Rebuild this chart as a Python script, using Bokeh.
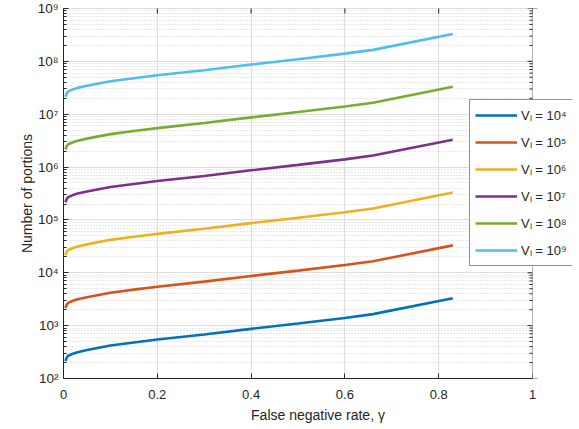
import math
from bokeh.plotting import figure
from bokeh.models import FixedTicker, Legend, LegendItem, BoxAnnotation
from bokeh.embed import file_html
from bokeh.resources import INLINE

# ---- data ----
gamma = [0.004, 0.007, 0.01, 0.02, 0.03, 0.05, 0.1, 0.15, 0.2, 0.3, 0.4, 0.5, 0.6, 0.66, 0.83]
n_v4 = [215, 250, 270, 295, 315, 345, 420, 480, 545, 680, 870, 1100, 1400, 1650, 3300]
n_v5 = [2150, 2500, 2700, 2950, 3150, 3450, 4200, 4800, 5450, 6800, 8700, 11000, 14000, 16500, 33000]
n_v6 = [21500, 25000, 27000, 29500, 31500, 34500, 42000, 48000, 54500, 68000, 87000, 110000, 140000, 165000, 330000]
n_v7 = [215000, 250000, 270000, 295000, 315000, 345000, 420000, 480000, 545000, 680000, 870000,
        1100000, 1400000, 1650000, 3300000]
n_v8 = [2150000, 2500000, 2700000, 2950000, 3150000, 3450000, 4200000, 4800000, 5450000, 6800000,
        8700000, 11000000, 14000000, 16500000, 33000000]
n_v9 = [21500000, 25000000, 27000000, 29500000, 31500000, 34500000, 42000000, 48000000, 54500000,
        68000000, 87000000, 110000000, 140000000, 165000000, 330000000]
series = [n_v4, n_v5, n_v6, n_v7, n_v8, n_v9]
labels = ["V\u2097 = 10\u2074", "V\u2097 = 10\u2075", "V\u2097 = 10\u2076",
          "V\u2097 = 10\u2077", "V\u2097 = 10\u2078", "V\u2097 = 10\u2079"]
colors = ["#0072BD", "#D95319", "#EDB120", "#7E2F8E", "#77AC30", "#4DBEEE"]

x_ticks = [0, 0.2, 0.4, 0.6, 0.8, 1]
x_tick_labels = ["0", "0.2", "0.4", "0.6", "0.8", "1"]
y_ticks = [1e2, 1e3, 1e4, 1e5, 1e6, 1e7, 1e8, 1e9]
y_tick_labels = ["10\u00b2", "10\u00b3", "10\u2074", "10\u2075", "10\u2076", "10\u2077", "10\u2078", "10\u2079"]
y_minor = [m * 10 ** e for e in range(2, 9) for m in range(2, 10)]

X_MIN, X_MAX = 0, 1
Y_MIN, Y_MAX = 1e2, 1e9
# the frame runs a little past x = 1 so the legend can stick out of the axes box
X_FRAME_END = 509 / 469

FONT = "Liberation Sans"
TXT = "#262626"

p = figure(width=579, height=429, x_range=(X_MIN, X_FRAME_END), y_range=(Y_MIN, Y_MAX),
           y_axis_type="log", output_backend="svg", toolbar_location=None,
           min_border_left=63, min_border_right=7, min_border_top=8, min_border_bottom=51)
p.outline_line_color = None
p.background_fill_color = "white"
p.border_fill_color = "white"

xt = FixedTicker(ticks=x_ticks, minor_ticks=[])
yt = FixedTicker(ticks=y_ticks, minor_ticks=y_minor)

# bottom axis
ax = p.xaxis[0]
ax.ticker = xt
ax.bounds = (X_MIN, X_MAX)
ax.major_label_overrides = {t: l for t, l in zip(x_ticks, x_tick_labels)}
ax.axis_label = "False negative rate, \u03b3"
ax.axis_label_text_font = FONT
ax.axis_label_text_font_style = "normal"
ax.axis_label_text_font_size = "14px"
ax.axis_label_text_color = TXT
ax.axis_label_standoff = 5
ax.major_label_text_font = FONT
ax.major_label_text_font_size = "13px"
ax.major_label_text_color = TXT
ax.major_label_standoff = 11
ax.major_tick_in = 5
ax.major_tick_out = 0
ax.minor_tick_in = 0
ax.minor_tick_out = 0
ax.axis_line_color = TXT
ax.major_tick_line_color = TXT

# left axis
ay = p.yaxis[0]
ay.ticker = yt
ay.major_label_overrides = {t: l for t, l in zip(y_ticks, y_tick_labels)}
ay.axis_label = "Number of portions"
ay.axis_label_text_font = FONT
ay.axis_label_text_font_style = "normal"
ay.axis_label_text_font_size = "14px"
ay.axis_label_text_color = TXT
ay.axis_label_standoff = 0
ay.major_label_text_font = FONT
ay.major_label_text_font_size = "13.5px"
ay.major_label_text_color = TXT
ay.major_label_standoff = 5
ay.major_tick_in = 5
ay.major_tick_out = 0
ay.minor_tick_in = 3
ay.minor_tick_out = 0
ay.axis_line_color = TXT
ay.major_tick_line_color = TXT
ay.minor_tick_line_color = TXT

# grids
p.xgrid.ticker = xt
p.ygrid.ticker = yt
p.xgrid.grid_line_color = "#dedede"
p.ygrid.grid_line_color = "#dedede"
p.ygrid.minor_grid_line_color = "#d2d2d2"
p.ygrid.minor_grid_line_dash = "1 2"

# inward ticks on the top and right edges of the box
p.scatter(x_ticks, [Y_MAX] * len(x_ticks), marker="dash", angle=math.pi / 2, size=10,
          line_color=TXT, line_width=1)
p.scatter([X_MAX] * len(y_ticks), y_ticks, marker="dash", size=10, line_color=TXT, line_width=1)
p.scatter([X_MAX] * len(y_minor), y_minor, marker="dash", size=6, line_color=TXT, line_width=1)

renderers = []
for ys, c in zip(series, colors):
    r = p.line(gamma, ys, line_color=c, line_width=2.6)
    renderers.append(r)

# blank out the strip right of the axes box, then draw the box itself
p.add_layout(BoxAnnotation(left=X_MAX, fill_color="white", fill_alpha=1, line_alpha=0))
p.add_layout(BoxAnnotation(left=X_MIN, right=X_MAX, bottom=Y_MIN, top=Y_MAX,
                           fill_alpha=0, line_color=TXT, line_width=1))

legend = Legend(items=[LegendItem(label=l, renderers=[r]) for l, r in zip(labels, renderers)],
                location=(406, 112), margin=0, padding=5, spacing=7,
                glyph_width=42, glyph_height=20, label_height=20, label_standoff=4,
                label_text_font=FONT, label_text_font_size="13px", label_text_color=TXT,
                border_line_color=TXT, border_line_width=1, background_fill_color="white",
                background_fill_alpha=1)
p.add_layout(legend)

open("out.html", "w").write(file_html(p, INLINE))
